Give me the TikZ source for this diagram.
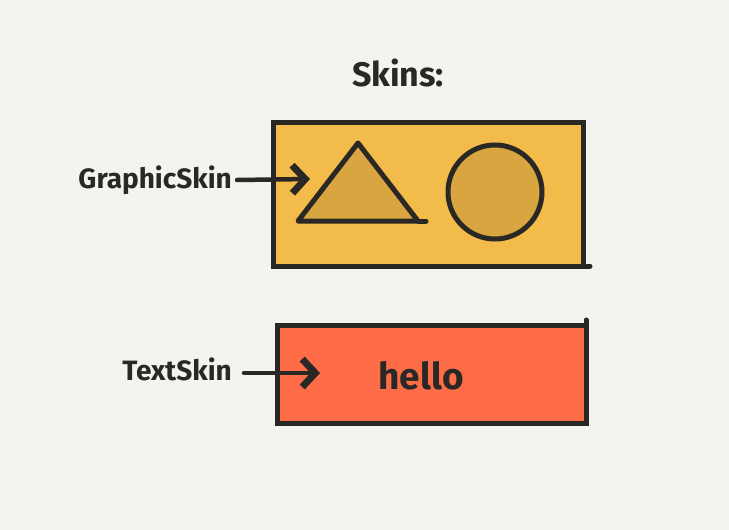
\documentclass[tikz,border=0pt]{standalone}
\usepackage{fontspec}
\setmainfont{Fira Sans}
\usetikzlibrary{arrows.meta}

\definecolor{paper}{HTML}{F4F3EF}
\definecolor{ink}{HTML}{2A2825}
\definecolor{skinyellow}{HTML}{F3BB4A}
\definecolor{shapeyellow}{HTML}{D9A540}
\definecolor{skinred}{HTML}{FF6C48}

\tikzset{
  skinbox/.style={draw=ink, line width=5pt, inner sep=0pt, outer sep=0pt},
  skinlabel/.style={text=ink, font=\bfseries\fontsize{28}{32}\selectfont, inner sep=0pt},
  pointer/.style={draw=ink, line width=4.5pt, line cap=round, line join=round,
    -{Straight Barb[length=13pt, width=28pt, line width=7pt]}},
}

\begin{document}
\begin{tikzpicture}[x=1pt, y=-1pt]

\fill[paper] (0, 0) rectangle (729, 530);
\useasboundingbox (0, 0) rectangle (729, 530);

\node[text=ink, font=\bfseries\fontsize{34}{38}\selectfont] (title) at (398, 73) {Skins:};

% the two skins
\node[skinbox, fill=skinyellow, minimum width=310pt, minimum height=144pt] (graphic) at (428, 194) {};
\node[skinbox, fill=skinred, minimum width=309pt, minimum height=98pt] (textskin) at (431.5, 374) {};
\draw[ink, line width=5pt, line cap=round] (graphic.south east) -- ++(7, 0);
\draw[ink, line width=5pt, line cap=round] (textskin.north east) -- ++(0, -5);

% graphic skin content
\draw[ink, line width=5pt, line join=round, fill=shapeyellow] (358, 143) -- (298, 221) -- (418, 221) -- cycle;
\draw[ink, line width=5pt, line cap=round] (418, 221) -- (426, 221);
\node[draw=ink, line width=5pt, fill=shapeyellow, circle, minimum size=94pt, inner sep=0pt] (dot) at (495, 192) {};

% text skin content
\node[text=ink, font=\bfseries\fontsize{37}{42}\selectfont] (hello) at (421, 376) {hello};

% labels
\node[skinlabel, anchor=east] (gslabel) at (232, 180) {GraphicSkin};
\node[skinlabel, anchor=east] (tslabel) at (232, 369) {TextSkin};
\coordinate (gstip) at (310, 179);
\coordinate (tstip) at (320, 373);
\draw[pointer] (gslabel.east) ++(5, 0) -- (gstip);
\draw[pointer] (tslabel.east) ++(12, 4) -- (tstip);

\end{tikzpicture}
\end{document}
